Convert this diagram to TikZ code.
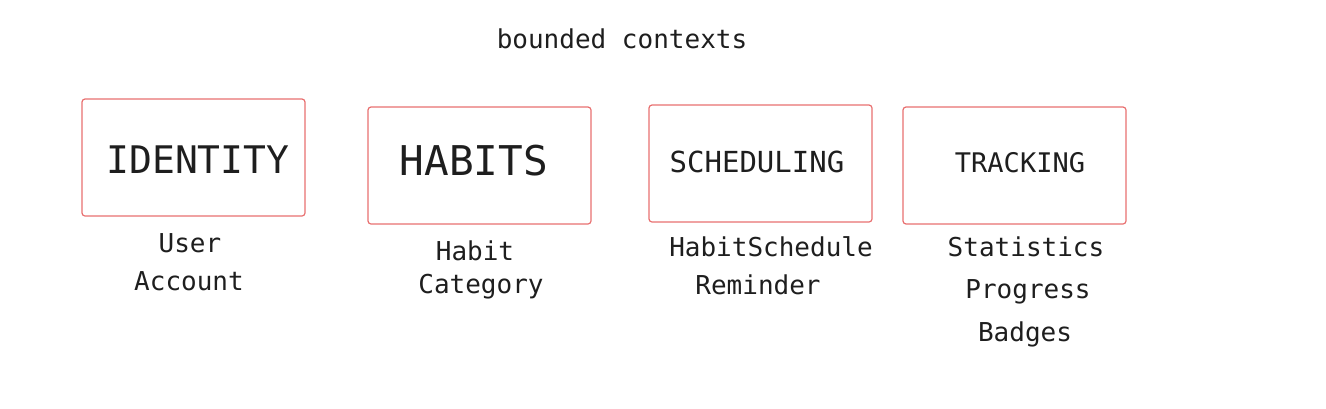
\documentclass[tikz,border=0pt]{standalone}
\usepackage{fontspec}
\setmonofont{DejaVu Sans Mono}
\definecolor{boxred}{RGB}{232,112,112}
\definecolor{ink}{RGB}{30,30,30}
\tikzset{
  ctx/.style={draw=boxred, line width=1.2pt, rounded corners=3pt, minimum width=223pt, minimum height=117pt, inner sep=0pt},
  lbl/.style={font=\ttfamily\fontsize{26}{30}\selectfont, text=ink, inner sep=0pt, anchor=center},
  ttl/.style={text=ink, inner sep=0pt, anchor=center}
}
\begin{document}
\begin{tikzpicture}[x=1pt,y=-1pt]
\useasboundingbox (0,0) rectangle (1326,408);
\node[lbl] (title) at (622,39) {bounded contexts};
\node[ctx] (identity) at (193.5,157.5) {};
\node[ctx] (habits) at (479.5,165.5) {};
\node[ctx] (scheduling) at (760.5,163.5) {};
\node[ctx] (tracking) at (1014.5,165.5) {};
\node[ttl, font=\ttfamily\fontsize{38}{40}\selectfont] (tid) at (198,160) {IDENTITY};
\node[ttl, font=\ttfamily\fontsize{41}{44}\selectfont] (tha) at (474,161) {HABITS};
\node[ttl, font=\ttfamily\fontsize{29}{32}\selectfont] (tsc) at (757,162) {SCHEDULING};
\node[ttl, font=\ttfamily\fontsize{27}{30}\selectfont] (ttr) at (1020,163) {TRACKING};
\node[lbl] (user) at (190,243) {User};
\node[lbl] (account) at (189,281) {Account};
\node[lbl] (habit) at (475,251) {Habit};
\node[lbl] (category) at (481,287) {Category};
\node[lbl] (hsched) at (771,247) {HabitSchedule};
\node[lbl] (reminder) at (758,285) {Reminder};
\node[lbl] (stats) at (1026,247) {Statistics};
\node[lbl] (progress) at (1028,292) {Progress};
\node[lbl] (badges) at (1025,334) {Badges};
\end{tikzpicture}
\end{document}
